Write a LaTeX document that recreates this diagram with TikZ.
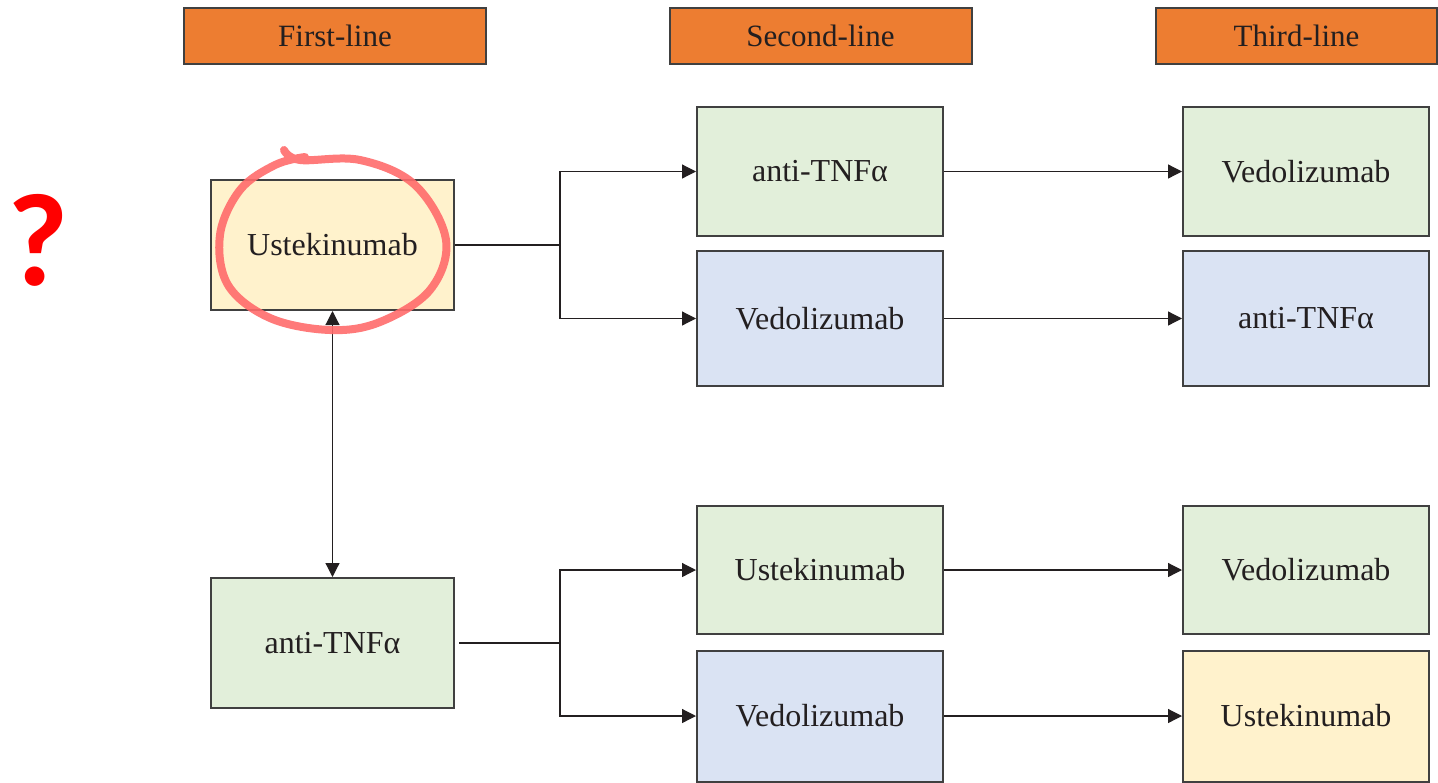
\documentclass[tikz,border=0pt]{standalone}
\usepackage{fontspec}
\setmainfont{Liberation Serif}
\newfontfamily\qfont{Carlito}
\usetikzlibrary{arrows.meta}
\definecolor{hdr}{HTML}{ED7D31}
\definecolor{yel}{HTML}{FFF2CC}
\definecolor{grn}{HTML}{E2EFDA}
\definecolor{blu}{HTML}{DAE3F3}
\definecolor{bord}{HTML}{404040}
\definecolor{txt}{HTML}{231F20}
\definecolor{mark}{HTML}{FF6B6B}
\tikzset{
  hdrbox/.style={draw=bord, line width=1pt, fill=hdr, minimum width=151pt, minimum height=28pt, inner sep=0pt, font=\fontsize{15.5}{18}\selectfont, text=txt},
  drug/.style={draw=bord, line width=1pt, inner sep=0pt, font=\fontsize{16}{19}\selectfont, text=txt},
  colA/.style={drug, minimum width=121.5pt, minimum height=65pt},
  colB/.style={drug, minimum width=123pt},
  conn/.style={draw=txt, line width=0.6pt, -{Triangle[length=7pt,width=7pt]}},
  plainline/.style={draw=txt, line width=0.6pt},
  redmark/.style={draw=mark, line width=4pt, opacity=0.9, line cap=round}
}
\begin{document}
\begin{tikzpicture}[x=0.5pt,y=-0.5pt]
\useasboundingbox (0,0) rectangle (1438,782);
% headers
\node[hdrbox] (h1) at (335,36) {First-line};
\node[hdrbox] (h2) at (820.5,36) {Second-line};
\node[hdrbox, minimum width=140.5pt] (h3) at (1296.5,36) {Third-line};
% first line
\node[colA, fill=yel] (u1) at (332.5,245) {Ustekinumab};
\node[colA, fill=grn] (a1) at (332.5,643) {anti-TNFα};
% top group
\node[colB, fill=grn, minimum height=64.5pt] (s1) at (820,171.5) {anti-TNFα};
\node[colB, fill=blu, minimum height=67.5pt] (s2) at (820,318.5) {Vedolizumab};
\node[colB, fill=grn, minimum height=64.5pt] (t1) at (1306,171.5) {Vedolizumab};
\node[colB, fill=blu, minimum height=67.5pt] (t2) at (1306,318.5) {anti-TNFα};
% bottom group
\node[colB, fill=grn, minimum height=64pt] (s3) at (820,570) {Ustekinumab};
\node[colB, fill=blu, minimum height=65.5pt] (s4) at (820,716) {Vedolizumab};
\node[colB, fill=grn, minimum height=64pt] (t3) at (1306,570) {Vedolizumab};
\node[colB, fill=yel, minimum height=65.5pt] (t4) at (1306,716) {Ustekinumab};
% junctions
\coordinate (j1) at (560,245);
\coordinate (j2) at (560,643);
\draw[plainline] (u1.east) -- (j1);
\draw[conn] (j1) |- (s1.west);
\draw[conn] (j1) |- (s2.west);
\draw[plainline] ([xshift=2pt]a1.east) -- (j2);
\draw[conn] (j2) |- (s3.west);
\draw[conn] (j2) |- (s4.west);
\draw[conn] (s1.east) -- (t1.west);
\draw[conn] (s2.east) -- (t2.west);
\draw[conn] (s3.east) -- (t3.west);
\draw[conn] (s4.east) -- (t4.west);
\draw[conn, {Triangle[length=7pt,width=7pt]}-{Triangle[length=7pt,width=7pt]}] (u1.south) -- (a1.north);
% red hand-drawn circle
\draw[redmark] plot[smooth, tension=0.6] coordinates {(284,150) (300,160) (360,160) (415,185) (446,240) (430,290) (380,322) (330,330) (270,318) (228,285) (220,235) (240,190) (275,165) (305,157)};
% question mark
\node[text=red, font=\qfont\bfseries\fontsize{66}{66}\selectfont, inner sep=0pt] (q) at (38,240) {?};
\end{tikzpicture}
\end{document}
